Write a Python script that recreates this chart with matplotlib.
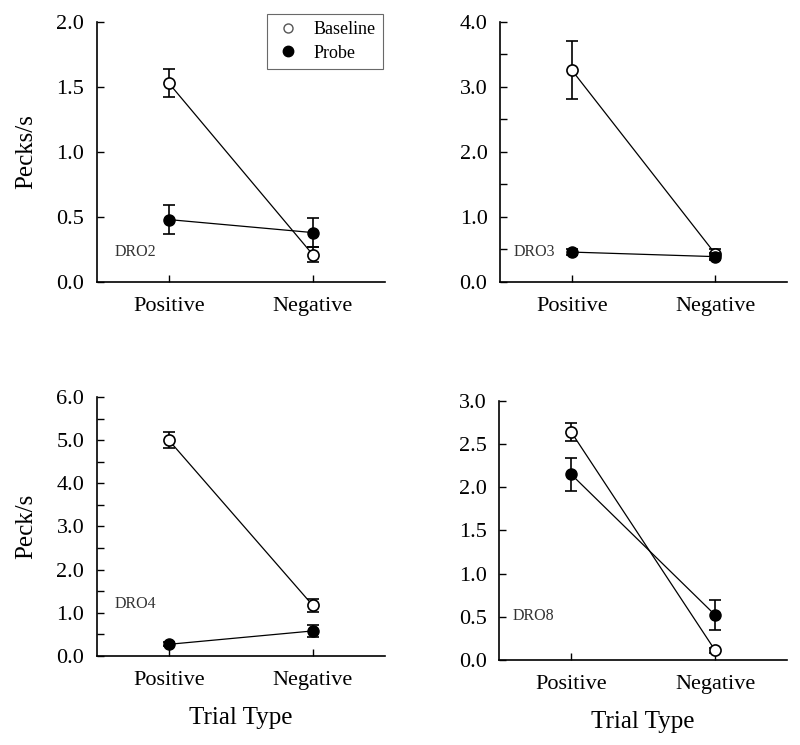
import matplotlib
matplotlib.use('Agg')
from matplotlib import pyplot as plt
from matplotlib.lines import Line2D

plt.rcParams['font.family'] = ['Liberation Serif', 'DejaVu Serif']

trial_types = ['Positive', 'Negative']
panel_names = ['DRO2', 'DRO3', 'DRO4', 'DRO8']

# 每个面板: baseline / probe 的均值和误差
baseline_mean = [[1.53, 0.21], [3.26, 0.43], [5.0, 1.17], [2.64, 0.11]]
baseline_err = [[0.11, 0.06], [0.44, 0.07], [0.18, 0.15], [0.10, 0.03]]
probe_mean = [[0.48, 0.38], [0.46, 0.39], [0.27, 0.58], [2.15, 0.52]]
probe_err = [[0.11, 0.11], [0.05, 0.05], [0.05, 0.13], [0.19, 0.17]]

y_max = [2.0, 4.0, 6.0, 3.0]
y_major = [[0.0, 0.5, 1.0, 1.5, 2.0],
           [0.0, 1.0, 2.0, 3.0, 4.0],
           [0.0, 1.0, 2.0, 3.0, 4.0, 5.0, 6.0],
           [0.0, 0.5, 1.0, 1.5, 2.0, 2.5, 3.0]]
y_minor = [[], [0.5, 1.5, 2.5, 3.5], [0.5, 1.5, 2.5, 3.5, 4.5, 5.5], []]
y_labels = ['Pecks/s', None, 'Peck/s', None]

axes_pos = [[0.121, 0.6215, 0.36, 0.349],
            [0.625, 0.6215, 0.359, 0.349],
            [0.121, 0.1195, 0.36, 0.3477],
            [0.624, 0.1141, 0.36, 0.3477]]
name_pos = [(0.063, 0.115), (0.049, 0.115), (0.063, 0.2), (0.045, 0.17)]

fig = plt.figure(figsize=(8, 7.45), dpi=100)
x = [1, 2]

for i in range(4):
    ax = fig.add_axes(axes_pos[i])
    ax.errorbar(x, baseline_mean[i], yerr=baseline_err[i], color='black', lw=0.9,
                elinewidth=1.2, capsize=4.5, capthick=1.2, marker='o', markersize=8,
                markerfacecolor='white', markeredgecolor='black', markeredgewidth=1.2,
                zorder=3)
    ax.errorbar(x, probe_mean[i], yerr=probe_err[i], color='black', lw=0.9,
                elinewidth=1.2, capsize=4.5, capthick=1.2, marker='o', markersize=8,
                markerfacecolor='black', markeredgecolor='black', zorder=4)

    ax.set_xlim(0.5, 2.5)
    ax.set_ylim(0, y_max[i])
    ax.set_xticks(x)
    ax.set_xticklabels(trial_types)
    ax.set_yticks(y_major[i])
    ax.set_yticklabels(['%.1f' % v for v in y_major[i]])
    ax.set_yticks(y_minor[i], minor=True)
    ax.tick_params(axis='both', direction='in', length=5, width=1, labelsize=16)
    ax.tick_params(axis='y', which='minor', direction='in', length=5, width=1)
    ax.tick_params(axis='y', pad=9)
    ax.tick_params(axis='x', pad=11)
    for s in ['top', 'right']:
        ax.spines[s].set_visible(False)
    for s in ['left', 'bottom']:
        ax.spines[s].set_linewidth(1.2)

    ax.text(name_pos[i][0], name_pos[i][1], panel_names[i], transform=ax.transAxes,
            fontsize=11.5, color='#333333', ha='left', va='center')

    if y_labels[i]:
        ax.set_ylabel(y_labels[i], fontsize=18, labelpad=14)
    if i >= 2:
        ax.set_xlabel('Trial Type', fontsize=18, labelpad=12)

    if i == 0:
        hh = [Line2D([], [], ls='none', marker='o', markersize=6.5, markerfacecolor='white',
                     markeredgecolor='#555555'),
              Line2D([], [], ls='none', marker='o', markersize=7.5, markerfacecolor='black',
                     markeredgecolor='black')]
        leg = ax.legend(hh, ['Baseline', 'Probe'], loc='upper right', fontsize=13,
                        frameon=True, fancybox=False, edgecolor='#444444',
                        borderaxespad=0.0, handletextpad=0.7, handlelength=1.5,
                        borderpad=0.4, labelspacing=0.35, bbox_to_anchor=(0.995, 1.03))
        leg.get_frame().set_linewidth(0.8)

plt.savefig('out.png', dpi=100)
